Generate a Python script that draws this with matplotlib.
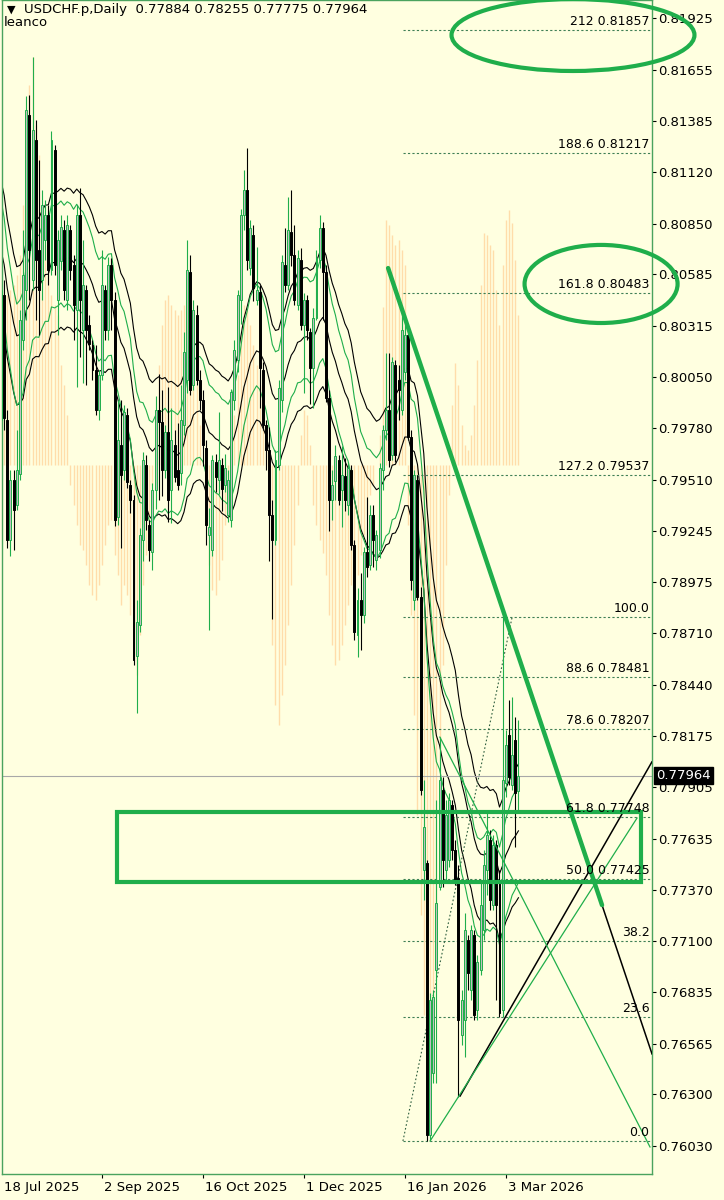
import numpy as np
import pandas as pd
import matplotlib
matplotlib.use("Agg")
import matplotlib.pyplot as plt
import matplotlib.transforms as mtrans
from matplotlib.patches import Ellipse, Rectangle

# daily bars USDCHF.p, 18 Jul 2025 .. 9 Mar 2026 (one entry per bar)
opens = [0.79824, 0.80477, 0.79824, 0.79197, 0.79511, 0.79380, 0.79542, 0.80242, 0.80503, 0.81418,
         0.80556, 0.81287, 0.80712, 0.80556, 0.80765, 0.80895, 0.80608, 0.81235, 0.80451, 0.80655,
         0.80817, 0.80451, 0.80817, 0.80634, 0.80399, 0.80895, 0.80294, 0.80503, 0.80321, 0.80216,
         0.80085, 0.79876, 0.80059, 0.80503, 0.80294, 0.80634, 0.80451, 0.79317, 0.79693, 0.79563,
         0.79850, 0.79484, 0.79406, 0.78591, 0.78753, 0.79197, 0.79589, 0.79275, 0.79134, 0.79458,
         0.79876, 0.79814, 0.79563, 0.79761, 0.79458, 0.79693, 0.79563, 0.79547, 0.79798, 0.80033,
         0.80598, 0.80007, 0.80373, 0.80033, 0.79929, 0.79678, 0.79223, 0.79145, 0.79605, 0.79511,
         0.79589, 0.79484, 0.79328, 0.79301, 0.79929, 0.80138, 0.80451, 0.80895, 0.81026, 0.80618,
         0.80791, 0.80451, 0.80493, 0.80085, 0.79798, 0.79667, 0.79328, 0.79197, 0.79589, 0.79929,
         0.80634, 0.80530, 0.80807, 0.80686, 0.80425, 0.80660, 0.80321, 0.80451, 0.80284, 0.80096,
         0.80357, 0.80660, 0.80827, 0.80598, 0.79939, 0.79406, 0.79505, 0.79615, 0.79458, 0.79531,
         0.79380, 0.79563, 0.79171, 0.78700, 0.78883, 0.78805, 0.79134, 0.79066, 0.79328, 0.79092,
         0.79145, 0.79563, 0.79772, 0.79876, 0.79641, 0.80112, 0.80033, 0.79876, 0.80075, 0.80268,
         0.79735, 0.78883, 0.79511, 0.78899, 0.77472, 0.77509, 0.76087, 0.76412, 0.76950, 0.77384,
         0.77890, 0.77472, 0.77525, 0.77812, 0.77577, 0.77431, 0.76610, 0.76688, 0.77107, 0.76845,
         0.77133, 0.76741, 0.76950, 0.77159, 0.77472, 0.77629, 0.77289, 0.77603, 0.77420, 0.76741,
         0.77927, 0.78178, 0.77917, 0.78152, 0.77884]
highs = [0.81235, 0.80556, 0.79876, 0.79563, 0.79563, 0.79772, 0.80399, 0.80817, 0.81517, 0.81523,
         0.81721, 0.81392, 0.81183, 0.81026, 0.80974, 0.80948, 0.81334, 0.81261, 0.80817, 0.80895,
         0.80869, 0.80895, 0.80843, 0.80686, 0.80948, 0.81037, 0.80765, 0.80530, 0.80373, 0.80242,
         0.80216, 0.80085, 0.80712, 0.80530, 0.80676, 0.80671, 0.80493, 0.79929, 0.79929, 0.79902,
         0.79887, 0.79511, 0.79432, 0.78883, 0.79260, 0.79657, 0.79641, 0.79301, 0.79495, 0.79950,
         0.80064, 0.79981, 0.79798, 0.79997, 0.79887, 0.79772, 0.79808, 0.80007, 0.80284, 0.80765,
         0.80686, 0.80451, 0.80425, 0.80085, 0.79981, 0.79720, 0.79364, 0.79641, 0.79646, 0.79866,
         0.79625, 0.79646, 0.79563, 0.79986, 0.80242, 0.80503, 0.80927, 0.81131, 0.81246, 0.80869,
         0.80843, 0.80728, 0.80530, 0.80127, 0.79824, 0.79787, 0.79406, 0.79667, 0.80033, 0.80686,
         0.80827, 0.80989, 0.81026, 0.80843, 0.80712, 0.80723, 0.80488, 0.80477, 0.80305, 0.80409,
         0.80712, 0.80895, 0.80859, 0.80634, 0.79981, 0.79563, 0.79693, 0.79641, 0.79688, 0.79625,
         0.79605, 0.79589, 0.79197, 0.78946, 0.79025, 0.79160, 0.79422, 0.79380, 0.79380, 0.79249,
         0.79599, 0.79798, 0.80174, 0.80174, 0.80153, 0.80138, 0.80112, 0.80399, 0.80373, 0.80294,
         0.79772, 0.79563, 0.79537, 0.78951, 0.77943, 0.77525, 0.76830, 0.76845, 0.77838, 0.78167,
         0.77958, 0.77838, 0.77875, 0.77838, 0.77629, 0.77499, 0.76845, 0.77248, 0.77133, 0.77185,
         0.77159, 0.77028, 0.77420, 0.77577, 0.77786, 0.77681, 0.77655, 0.77629, 0.77472, 0.78794,
         0.78204, 0.78361, 0.78376, 0.78272, 0.78255]
lows = [0.79563, 0.79772, 0.79155, 0.79113, 0.79145, 0.79354, 0.79511, 0.80190, 0.80347, 0.80451,
        0.80503, 0.80347, 0.80268, 0.80451, 0.80660, 0.80530, 0.80582, 0.80582, 0.80268, 0.80608,
        0.80451, 0.80399, 0.80556, 0.80242, 0.79997, 0.80153, 0.80017, 0.80007, 0.80190, 0.80033,
        0.79850, 0.79824, 0.80033, 0.80242, 0.80242, 0.80294, 0.79270, 0.79275, 0.79155, 0.79511,
        0.79469, 0.79338, 0.78544, 0.78293, 0.78716, 0.79087, 0.79249, 0.79087, 0.79040, 0.79359,
        0.79406, 0.79427, 0.79521, 0.79291, 0.79286, 0.79500, 0.79458, 0.79484, 0.79746, 0.79965,
        0.79955, 0.79981, 0.80007, 0.79876, 0.79584, 0.79171, 0.78727, 0.79113, 0.79448, 0.79437,
        0.79349, 0.79448, 0.79291, 0.79265, 0.79876, 0.80075, 0.80326, 0.80817, 0.80608, 0.80582,
        0.80446, 0.80425, 0.79887, 0.79772, 0.79563, 0.79087, 0.78784, 0.79171, 0.79563, 0.79866,
        0.80493, 0.80503, 0.80629, 0.80425, 0.80399, 0.80294, 0.79965, 0.80242, 0.79908, 0.79887,
        0.80347, 0.80618, 0.80347, 0.79918, 0.79244, 0.79301, 0.79406, 0.79380, 0.79265, 0.79349,
        0.79328, 0.79145, 0.78674, 0.78586, 0.78622, 0.78763, 0.79004, 0.79040, 0.79056, 0.79040,
        0.79103, 0.79458, 0.79720, 0.79578, 0.79615, 0.79605, 0.79824, 0.79850, 0.80033, 0.79720,
        0.78936, 0.78831, 0.78883, 0.77864, 0.77316, 0.76056, 0.76061, 0.76359, 0.76359, 0.77367,
        0.77384, 0.77420, 0.77488, 0.77525, 0.77394, 0.76286, 0.76558, 0.76495, 0.76845, 0.76793,
        0.76688, 0.76688, 0.76924, 0.77107, 0.77342, 0.77263, 0.77263, 0.76793, 0.76704, 0.76704,
        0.77854, 0.77917, 0.77890, 0.77593, 0.77775]
closes = [0.80503, 0.79835, 0.79197, 0.79511, 0.79354, 0.79563, 0.80347, 0.80582, 0.81444, 0.80712,
          0.81340, 0.80660, 0.80503, 0.80948, 0.80895, 0.80608, 0.81287, 0.80634, 0.80765, 0.80833,
          0.80503, 0.80843, 0.80608, 0.80425, 0.80895, 0.80451, 0.80530, 0.80294, 0.80221, 0.80085,
          0.79876, 0.80059, 0.80530, 0.80294, 0.80634, 0.80451, 0.79301, 0.79720, 0.79537, 0.79866,
          0.79500, 0.79406, 0.78570, 0.78768, 0.79223, 0.79615, 0.79301, 0.79145, 0.79458, 0.79876,
          0.79814, 0.79563, 0.79761, 0.79406, 0.79720, 0.79526, 0.79484, 0.79824, 0.80179, 0.80608,
          0.79981, 0.80399, 0.80033, 0.79929, 0.79693, 0.79275, 0.79265, 0.79615, 0.79526, 0.79615,
          0.79463, 0.79573, 0.79511, 0.79970, 0.80190, 0.80477, 0.80895, 0.81026, 0.80660, 0.80827,
          0.80514, 0.80503, 0.80096, 0.79798, 0.79667, 0.79328, 0.79197, 0.79615, 0.79991, 0.80650,
          0.80530, 0.80817, 0.80686, 0.80451, 0.80671, 0.80321, 0.80451, 0.80294, 0.80096, 0.80357,
          0.80671, 0.80827, 0.80598, 0.79939, 0.79406, 0.79484, 0.79636, 0.79406, 0.79537, 0.79406,
          0.79573, 0.79171, 0.78716, 0.78883, 0.78805, 0.79134, 0.79056, 0.79328, 0.79197, 0.79223,
          0.79573, 0.79772, 0.79876, 0.79615, 0.80127, 0.79641, 0.79981, 0.80294, 0.80268, 0.79735,
          0.78988, 0.79537, 0.78899, 0.77890, 0.77697, 0.76087, 0.76793, 0.76808, 0.77300, 0.77943,
          0.77525, 0.77760, 0.77838, 0.77577, 0.77420, 0.76688, 0.76793, 0.77159, 0.76934, 0.77159,
          0.76715, 0.76992, 0.77289, 0.77499, 0.77655, 0.77316, 0.77603, 0.77289, 0.76725, 0.77943,
          0.78126, 0.77958, 0.78073, 0.77875, 0.77964]
# closes before the first visible bar, only used to warm up the averages
pre_closes = [0.8060, 0.8075, 0.8082, 0.8068, 0.8090, 0.8079, 0.8064, 0.8071, 0.8085, 0.8096,
              0.8080, 0.8066, 0.8072, 0.8058, 0.8069, 0.8083, 0.8074, 0.8061, 0.8077, 0.8065,
              0.8070, 0.8081, 0.8067, 0.8076, 0.8088, 0.8072, 0.8063, 0.8079, 0.8084, 0.8069]

# oscillator histogram drawn on the price window (its own units)
osc = [150, 160, 170, 175, 180, 190, 210, 260, 330, 380, 408, 340, 310, 250, 220, 190, 170, 160, 150,
       100, 80, 50, -20, -40, -60, -80, -85, -100, -120, -130, -135, -120, -100, -80, -60, -55, -90, -110,
       -140, -120, -130, -150, -190, -210, -170, -120, -90, -60, -20, 40,
       100, 140, 165, 170, 160, 155, 150, 155, 160, 165, 150, 120, 80, 40, 0,
       -60, -100, -125, -130, -115, -95, -60, -30, 20, 50,
       90, 130, 160, 155, 140, 120, 100, 80, 50, 20, -30,
       -180, -240, -260, -230, -200, -160, -120, -80, -40, 30, 55, 50, 20,
       -40, -60, -75, -88, -110, -150, -180, -200, -195, -180, -160, -140,
       -120, -130, -110, -90, -70, -50, -30, -20, 0, 30,
       158, 245, 240, 230, 220, 225, 215, 200,
       -60, -150, -250, -350, -450, -550, -600, -615, -560, -450, -300, -200, -100, -30,
       60, 102, 80, 40, 20, 15, 30,
       60, 105, 180, 232, 230, 220, 215, 175, 140, 200, 245, 255, 242, 205, 150]
osc_base = 0.79589
osc_scale = 0.00005226

# fibonacci retracement
fib_low = 0.76056
fib_high = 0.78794
fib_ratios = [2.12, 1.886, 1.618, 1.272, 1.0, 0.886, 0.786, 0.618, 0.5, 0.382, 0.236, 0.0]
fib_labels = ["212 0.81857", "188.6 0.81217", "161.8 0.80483", "127.2 0.79537", "100.0",
              "88.6 0.78481", "78.6 0.78207", "61.8 0.77748", "50.0 0.77425", "38.2", "23.6", "0.0"]
fib_start = 127.4
fib_anchor_x = [127.4, 162.0]

price_ticks = [0.81925, 0.81655, 0.81385, 0.81120, 0.80850, 0.80585, 0.80315, 0.80050, 0.79780,
               0.79510, 0.79245, 0.78975, 0.78710, 0.78440, 0.78175, 0.77905, 0.77635, 0.77370,
               0.77100, 0.76835, 0.76565, 0.76300, 0.76030]
date_pos = [0, 32, 64, 96, 128, 160]
date_labels = ["18 Jul 2025", "2 Sep 2025", "16 Oct 2025", "1 Dec 2025", "16 Jan 2026", "3 Mar 2026"]

# hand drawn objects on the chart
trend_x = [122.7, 190.5]
trend_y = [0.80618, 0.77289]
support_black = ([145.5, 206.3], [0.76291, 0.78037])
support_green = ([136.0, 201.6], [0.76056, 0.77744])
fall_green = ([139.1, 205.7], [0.78167, 0.76025])
zone = (36.8, 202.9, 0.77410, 0.77775)
ell_top = (181.3, 0.81836, 77.0, 0.00376)
ell_mid = (190.2, 0.80535, 48.5, 0.00408)

BG = "#FFFFE0"
GREEN = "#1fae4b"
FRAME = "#4aa35e"

o = np.array(opens)
h = np.array(highs)
l = np.array(lows)
c = np.array(closes)
idx = np.arange(len(c))
up = c >= o

fig = plt.figure(figsize=(7.24, 12.0), dpi=100, facecolor=BG)
ax = fig.add_axes([2 / 724, 26 / 1200, 650 / 724, 1174 / 1200], facecolor=BG)
ax.set_xlim(0.317, 206.34)
ax.set_ylim(0.758837, 0.82019)

# oscillator histogram
ax.vlines(idx, osc_base, osc_base + np.array(osc) * osc_scale, colors="#FFDDAA", lw=1.0, zorder=1)

# envelopes around exponential averages (black set with middle line, green set)
all_close = pd.Series(pre_closes + closes)
n_pre = len(pre_closes)
mid_b = all_close.ewm(span=22, adjust=False).mean().to_numpy()[n_pre:]
mid_g = all_close.ewm(span=17, adjust=False).mean().to_numpy()[n_pre:]
ax.plot(idx, mid_b * 1.0045, color="black", lw=0.8, zorder=2)
ax.plot(idx, mid_b, color="black", lw=0.8, zorder=2)
ax.plot(idx, mid_b * 0.9955, color="black", lw=0.8, zorder=2)
ax.plot(idx, mid_g * 1.0033, color=GREEN, lw=0.8, zorder=2)
ax.plot(idx, mid_g * 0.9967, color=GREEN, lw=0.8, zorder=2)

# current price line
ax.axhline(closes[-1], color="#A8A8A8", lw=0.8, zorder=2)

# fibonacci levels
fib_rng = fib_high - fib_low
for r, lab in zip(fib_ratios, fib_labels):
    lev = fib_low + r * fib_rng
    ax.plot([fib_start, 206.34], [lev, lev], color="#3f7f55", lw=0.8, ls=(0, (2, 2)), zorder=3)
    ax.annotate(lab, xy=(206.0, lev), xytext=(-1, 1.5), textcoords="offset points",
                ha="right", va="bottom", fontsize=9, color="black", zorder=8)
ax.plot(fib_anchor_x, [fib_low, fib_high], color="#2f5f3f", lw=0.8, ls=(0, (1.5, 2)), zorder=3)

# candles
ax.vlines(idx[up], l[up], h[up], colors=GREEN, lw=0.8, zorder=4)
ax.vlines(idx[~up], l[~up], h[~up], colors="black", lw=0.8, zorder=4)
ax.bar(idx[up], c[up] - o[up], bottom=o[up], width=0.62, color="#C0C0C0",
       edgecolor=GREEN, linewidth=0.7, zorder=5)
ax.bar(idx[~up], o[~up] - c[~up], bottom=c[~up], width=0.62, color="black",
       edgecolor="black", linewidth=0.7, zorder=5)

# drawn lines
slope = (trend_y[1] - trend_y[0]) / (trend_x[1] - trend_x[0])
ax.plot([trend_x[0], 206.34], [trend_y[0], trend_y[0] + slope * (206.34 - trend_x[0])],
        color="black", lw=1.1, zorder=6)
ax.plot(trend_x, trend_y, color=GREEN, lw=3.2, solid_capstyle="round", zorder=7)
ax.plot(*support_black, color="black", lw=1.1, zorder=6)
ax.plot(*support_green, color=GREEN, lw=0.9, zorder=6)
ax.plot(*fall_green, color=GREEN, lw=0.9, zorder=6)

ax.add_patch(Rectangle((zone[0], zone[2]), zone[1] - zone[0], zone[3] - zone[2],
                       fill=False, edgecolor=GREEN, lw=3.0, zorder=7))
for cx, cy, w, hh in (ell_top, ell_mid):
    ax.add_patch(Ellipse((cx, cy), w, hh, fill=False, edgecolor=GREEN, lw=3.0,
                         zorder=7, clip_on=False))

# axes styling
for s in ax.spines.values():
    s.set_color(FRAME)
    s.set_linewidth(1.0)
ax.yaxis.tick_right()
ax.set_yticks(price_ticks)
ax.set_yticklabels([f"{p:.5f}" for p in price_ticks])
ax.tick_params(axis="y", length=3, width=0.8, color="black", labelsize=9.5, pad=1.5)
ax.set_xticks(date_pos[1:])
ax.set_xticklabels([])
ax.tick_params(axis="x", length=3, width=0.8, color="black")
trans = mtrans.blended_transform_factory(ax.transData, ax.transAxes)
for p, lab in zip(date_pos, date_labels):
    ax.text(p + 0.8, -0.0115, lab, transform=trans, ha="left", va="center",
            fontsize=9.5, clip_on=False)

# current price marker
ax.annotate(f"{closes[-1]:.5f}", xy=(1.0, closes[-1]), xycoords=("axes fraction", "data"),
            xytext=(3, 0), textcoords="offset points", ha="left", va="center",
            fontsize=9.5, color="white", zorder=10, annotation_clip=False,
            bbox=dict(boxstyle="square,pad=0.15", fc="black", ec="black"))

# header
fig.text(7 / 724, 1 - 10 / 1200, "\u25BC", fontsize=8, va="center", ha="left")
fig.text(24 / 724, 1 - 10 / 1200, "USDCHF.p,Daily  0.77884 0.78255 0.77775 0.77964",
         fontsize=9.5, va="center", ha="left")
fig.text(4 / 724, 1 - 23 / 1200, "leanco", fontsize=9.5, va="center", ha="left")

fig.savefig("out.png", dpi=100, facecolor=BG)
